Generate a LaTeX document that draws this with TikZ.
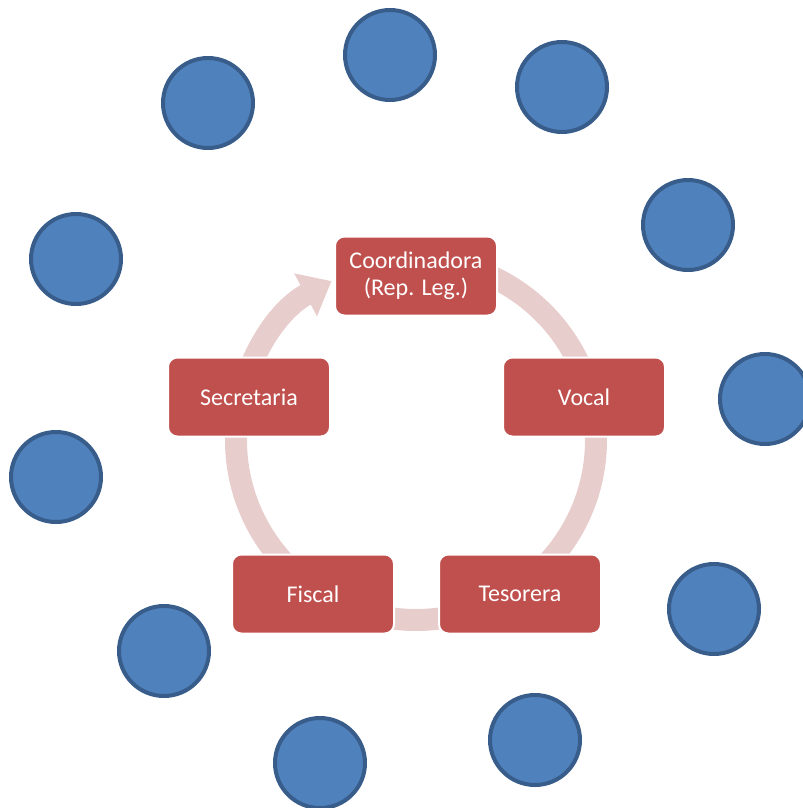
\documentclass[tikz,border=0pt]{standalone}
\usepackage{fontspec}
\setmainfont{Carlito}
\usetikzlibrary{arrows.meta}
\definecolor{boxred}{HTML}{C0504D}
\definecolor{ringpink}{RGB}{232,205,205}
\definecolor{bluefill}{HTML}{4F81BD}
\definecolor{blueedge}{HTML}{385D8A}
\begin{document}
\begin{tikzpicture}[x=0.75pt,y=0.75pt,
  rolebox/.style={draw=white, line width=1.5pt, fill=boxred, rounded corners=7pt,
    minimum width=121.5pt, minimum height=59.25pt, inner sep=0pt, text=white,
    font=\fontsize{18}{20.5}\selectfont, align=center},
  dot/.style={circle, draw=blueedge, fill=bluefill, line width=3pt,
    minimum size=67.5pt, inner sep=0pt},
  ring/.style={draw=ringpink, line width=16.5pt}]
\useasboundingbox (0,0) rectangle (803,-808);
\coordinate (ctr) at (416,-440);
\draw[ring, -{Triangle[width=35pt,length=22pt]}] (ctr) ++(90:180) arc[start angle=90, end angle=-242, radius=180];
% role boxes
\node[rolebox] (coord) at (416,-276) {Coordinadora\\(Rep. Leg.)};
\node[rolebox] (vocal) at (584,-397) {Vocal};
\node[rolebox] (teso) at (520,-594) {Tesorera};
\node[rolebox] (fisc) at (313,-594) {Fiscal};
\node[rolebox] (secr) at (249,-397) {Secretaria};
% circles
\node[dot] (c1) at (390,-55) {};
\node[dot] (c2) at (562,-87) {};
\node[dot] (c3) at (208,-103) {};
\node[dot] (c4) at (688,-225) {};
\node[dot] (c5) at (76,-259) {};
\node[dot] (c6) at (765,-399) {};
\node[dot] (c7) at (56,-477) {};
\node[dot] (c8) at (714,-609) {};
\node[dot] (c9) at (164,-651) {};
\node[dot] (c10) at (535,-740) {};
\node[dot] (c11) at (320,-763) {};
\end{tikzpicture}
\end{document}
